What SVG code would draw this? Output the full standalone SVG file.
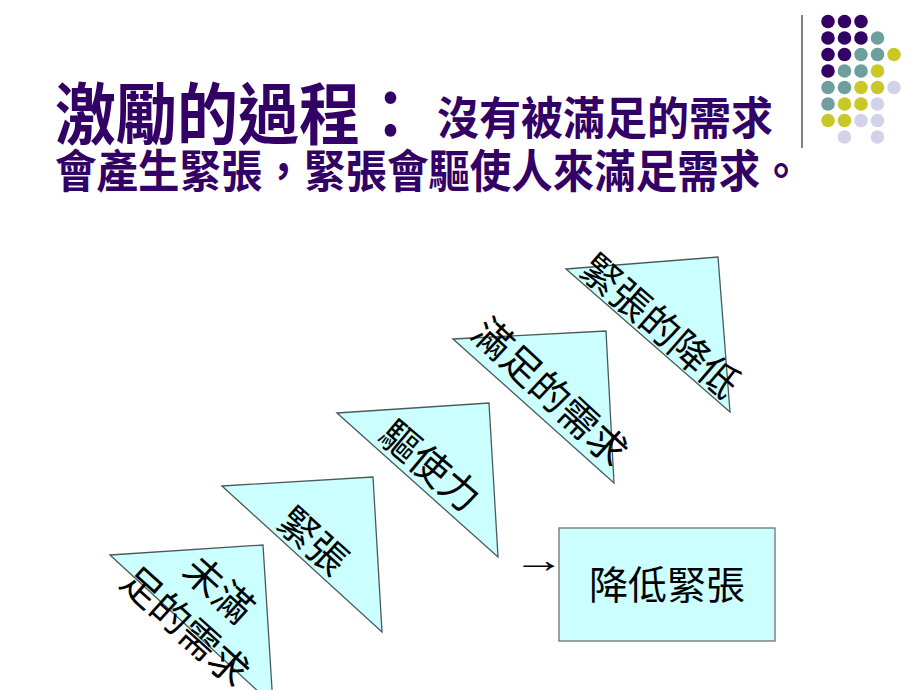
<svg xmlns="http://www.w3.org/2000/svg" width="920" height="690" viewBox="0 0 920 690">
<style>
.title{font-family:"Noto Sans CJK TC","Noto Sans CJK SC",sans-serif;fill:#330066;font-weight:bold}
.tri{fill:#ccffff;stroke:#4a5a5a;stroke-width:1.3}
.lbl{font-family:"Noto Sans CJK TC","Noto Sans CJK SC",sans-serif;font-size:39px;fill:#000;text-anchor:middle}
.P{fill:#330066}.T{fill:#6f9e9e}.Y{fill:#c8c828}.L{fill:#d2d2e8}
</style>
<rect width="920" height="690" fill="#fff"/>
<g id="decoration">
<line x1="802" y1="15" x2="802" y2="148" stroke="#808080" stroke-width="2"/>
<circle class="P" cx="828" cy="21.5" r="6.8"/><circle class="P" cx="844.5" cy="21.5" r="6.8"/><circle class="P" cx="861" cy="21.5" r="6.8"/>
<circle class="P" cx="828" cy="38" r="6.8"/><circle class="P" cx="844.5" cy="38" r="6.8"/><circle class="P" cx="861" cy="38" r="6.8"/><circle class="T" cx="877.5" cy="38" r="6.8"/>
<circle class="P" cx="828" cy="54.5" r="6.8"/><circle class="P" cx="844.5" cy="54.5" r="6.8"/><circle class="T" cx="861" cy="54.5" r="6.8"/><circle class="T" cx="877.5" cy="54.5" r="6.8"/><circle class="Y" cx="894" cy="54.5" r="6.8"/>
<circle class="P" cx="828" cy="71" r="6.8"/><circle class="T" cx="844.5" cy="71" r="6.8"/><circle class="T" cx="861" cy="71" r="6.8"/><circle class="Y" cx="877.5" cy="71" r="6.8"/>
<circle class="T" cx="828" cy="87.5" r="6.8"/><circle class="T" cx="844.5" cy="87.5" r="6.8"/><circle class="Y" cx="861" cy="87.5" r="6.8"/><circle class="Y" cx="877.5" cy="87.5" r="6.8"/><circle class="L" cx="894" cy="87.5" r="6.8"/>
<circle class="T" cx="828" cy="104" r="6.8"/><circle class="Y" cx="844.5" cy="104" r="6.8"/><circle class="Y" cx="861" cy="104" r="6.8"/><circle class="L" cx="877.5" cy="104" r="6.8"/>
<circle class="Y" cx="828" cy="120.5" r="6.8"/><circle class="Y" cx="844.5" cy="120.5" r="6.8"/><circle class="L" cx="861" cy="120.5" r="6.8"/><circle class="L" cx="877.5" cy="120.5" r="6.8"/>
<circle class="L" cx="844.5" cy="137" r="6.8"/><circle class="L" cx="877.5" cy="137" r="6.8"/>
</g>
<g id="title">
<text class="title" transform="scale(1,1.1)" x="55" y="126" font-size="61">激勵的過程：</text>
<text class="title" transform="scale(1,1.08)" x="437" y="125" font-size="42">沒有被滿足的需求</text>
<text class="title" transform="scale(1,1.1)" x="55" y="170.5" font-size="41.5">會產生緊張，緊張會驅使人來滿足需求。</text>
</g>
<g id="n1">
<polygon class="tri" points="110,555 263,545 273,705"/>
<g transform="translate(202,608) rotate(42)">
<text class="lbl" x="0" y="-25" dy="0.36em">未滿</text>
<text class="lbl" x="0" y="25" dy="0.36em">足的需求</text>
</g>
</g>
<g id="n2">
<polygon class="tri" points="222,486 373,477 382,632"/>
<text class="lbl" transform="translate(313,541) rotate(42)" dy="0.36em">緊張</text>
</g>
<g id="n3">
<polygon class="tri" points="337,413 489,403 498,557"/>
<text class="lbl" transform="translate(430,466) rotate(40)" dy="0.36em">驅使力</text>
</g>
<g id="n4">
<polygon class="tri" points="453,339 606,331 614,483"/>
<text class="lbl" transform="translate(550,392) rotate(43)" dy="0.36em">滿足的需求</text>
</g>
<g id="n5">
<polygon class="tri" points="566,269 718,257 730,412"/>
<text class="lbl" transform="translate(660,326) rotate(41)" dy="0.36em">緊張的降低</text>
</g>
<g id="connectors">
<text transform="translate(513,572) scale(1.45,1)" font-family="Liberation Serif, serif" font-size="36" fill="#000">→</text>
</g>
<g id="n6">
<rect x="559" y="528" width="216" height="113" fill="#ccffff" stroke="#707070" stroke-width="1.3"/>
<text class="lbl" x="667" y="585" dy="0.36em" font-size="38">降低緊張</text>
</g>
</svg>
